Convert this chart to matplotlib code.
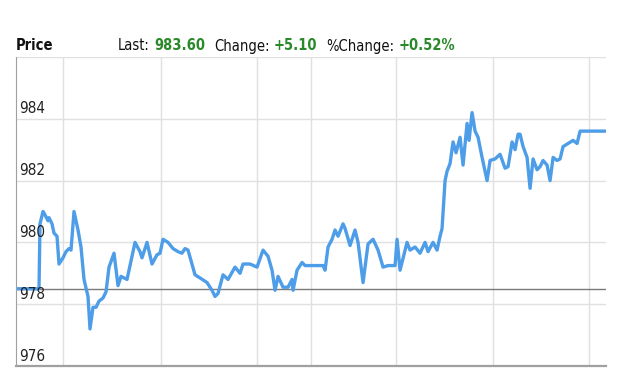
import matplotlib.pyplot as plt

# price trace (t = minutes since open, arbitrary units)
t = [0, 23, 24, 27, 28, 32, 33, 36, 38, 41, 43, 47, 50, 53, 55, 58, 62, 65,
     68, 72, 74, 77, 80, 83, 87, 90, 93, 98, 102, 105, 111, 119, 124, 126,
     131, 136, 141, 144, 147, 152, 157, 162, 166, 169, 172, 176, 179, 184,
     191, 196, 199, 202, 207, 212, 219, 224, 227, 234, 241, 247, 252, 256,
     259, 262, 267, 272, 276, 277, 281, 286, 289, 296, 307, 309, 312, 316,
     319, 322, 327, 329, 334, 339, 342, 347, 352, 357, 362, 367, 372, 379,
     381, 384, 391, 394, 399, 404, 409, 412, 417, 421, 424, 426, 429, 431,
     434, 437, 440, 444, 447, 451, 453, 456, 459, 462, 466, 471, 474, 479,
     484, 489, 492, 496, 499, 502, 504, 507, 511, 514, 517, 521, 524, 527,
     531, 534, 537, 541, 544, 547, 552, 557, 561, 564, 590]
price = [978.5, 978.5, 980.6, 981.0, 980.95, 980.7, 980.8, 980.6, 980.3,
         980.2, 979.3, 979.5, 979.7, 979.8, 979.75, 981.0, 980.4, 979.85,
         978.8, 978.25, 977.2, 977.9, 977.9, 978.1, 978.2, 978.4, 979.2,
         979.65, 978.6, 978.9, 978.8, 980.0, 979.7, 979.5, 980.0, 979.3,
         979.6, 979.65, 980.1, 980.0, 979.8, 979.7, 979.65, 979.8, 979.75,
         979.3, 978.95, 978.85, 978.7, 978.45, 978.25, 978.35, 978.95,
         978.8, 979.2, 979.0, 979.3, 979.3, 979.2, 979.75, 979.55, 979.1,
         978.45, 978.9, 978.55, 978.55, 978.8, 978.45, 979.1, 979.35,
         979.25, 979.25, 979.25, 979.1, 979.85, 980.1, 980.4, 980.2, 980.6,
         980.45, 979.9, 980.4, 980.0, 978.7, 979.95, 980.1, 979.75, 979.2,
         979.25, 979.25, 980.1, 979.1, 980.0, 979.75, 979.85, 979.65, 980.0,
         979.7, 980.0, 979.75, 980.2, 980.45, 982.0, 982.3, 982.55, 983.25,
         982.9, 983.4, 982.5, 983.85, 983.3, 984.2, 983.6, 983.4, 982.75,
         982.0, 982.65, 982.7, 982.85, 982.4, 982.45, 983.25, 983.0, 983.5,
         983.5, 983.1, 982.75, 981.75, 982.7, 982.35, 982.45, 982.65, 982.5,
         982.0, 982.75, 982.65, 982.7, 983.1, 983.2, 983.3, 983.2, 983.6,
         983.6]

prev_close = 978.50
y_ticks = [976, 978, 980, 982, 984]
x_grid = [47, 145, 241, 295, 380, 477, 573]
header = [("Last:", "983.60"), ("Change:", "+5.10"), ("%Change:", "+0.52%")]

fnt = dict(family='DejaVu Sans', fontstretch='condensed', fontsize=11)
hfnt = dict(fnt, fontsize=10.5)
green = '#2a8a2a'

fig = plt.figure(figsize=(6.4, 3.9), dpi=100)
ax = fig.add_axes([0.025, 0.0615, 0.922, 0.7925])

ax.set_xlim(0, 590)
ax.set_ylim(976, 986)

for v in y_ticks + [986]:
    ax.axhline(v, color='#e0e0e0', lw=1, zorder=0)
for x in x_grid:
    ax.axvline(x, color='#e0e0e0', lw=1, zorder=0)
ax.axhline(prev_close, color='#7a7a7a', lw=1, zorder=1)

ax.plot(t, price, color='#4d9de8', lw=2.4, solid_joinstyle='round', zorder=2)

for v in y_ticks:
    ax.text(0.005, v + 0.08, str(v), transform=ax.get_yaxis_transform(),
            ha='left', va='bottom', color='#222222', **fnt)

ax.set_xticks([])
ax.set_yticks([])
for s in ['top', 'right']:
    ax.spines[s].set_visible(False)
ax.spines['left'].set_color('#a0a0a0')
ax.spines['bottom'].set_color('#a0a0a0')
ax.spines['bottom'].set_linewidth(1.6)

fig.text(16 / 640, 1 - 46 / 390, "Price", fontweight='bold',
         va='center', ha='left', color='#111111', **hfnt)

prev = None
for lab, val in header:
    if prev is None:
        prev = fig.text(118 / 640, 1 - 46 / 390, lab, va='center', ha='left',
                        color='#111111', **hfnt)
    else:
        prev = ax.annotate(lab, xy=(1, 0), xycoords=prev, xytext=(6.5, 0),
                           textcoords='offset points', va='bottom', ha='left',
                           color='#111111', annotation_clip=False, **hfnt)
    prev = ax.annotate(val, xy=(1, 0), xycoords=prev, xytext=(3, 0),
                       textcoords='offset points', fontweight='bold',
                       va='bottom', ha='left', color=green,
                       annotation_clip=False, **hfnt)

fig.savefig("out.png", dpi=100)
